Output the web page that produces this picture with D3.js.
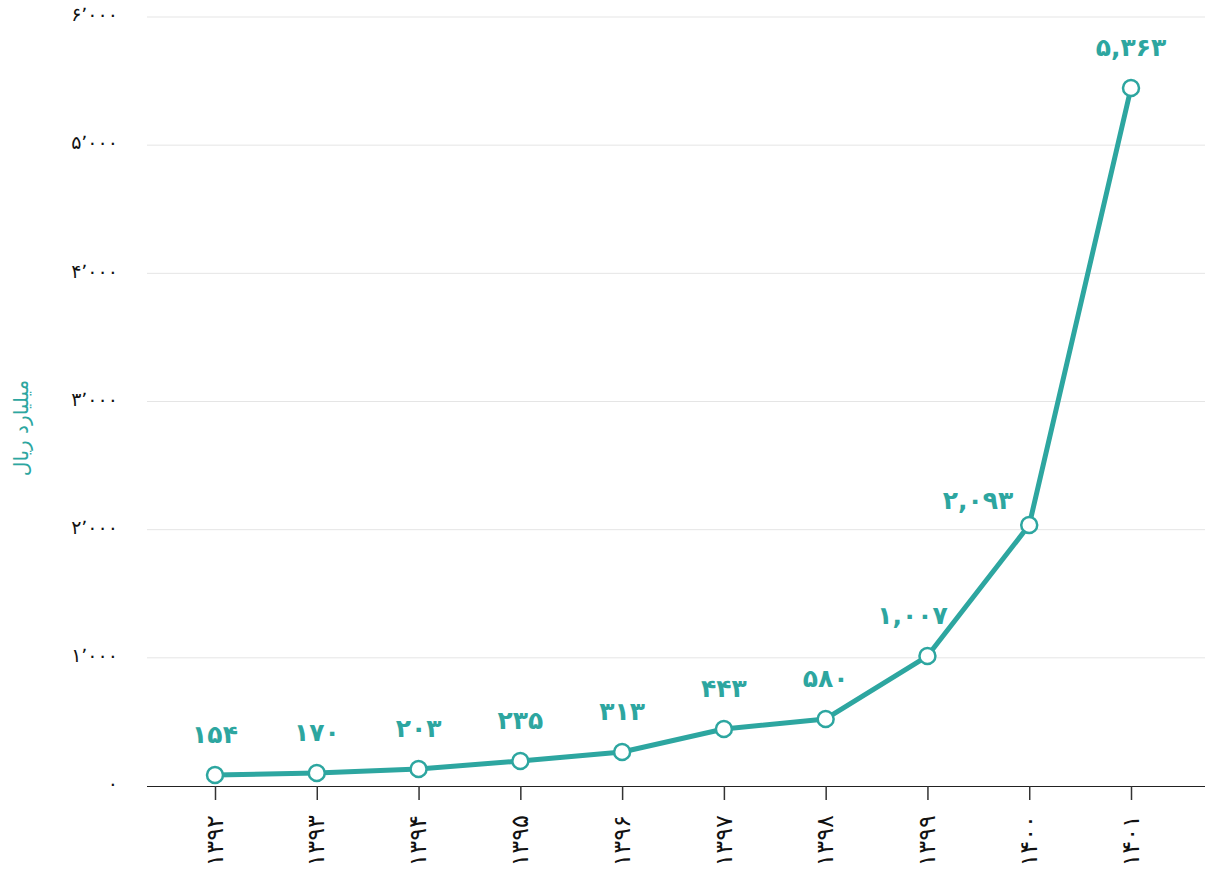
<!DOCTYPE html>
<html>
<head>
<meta charset="utf-8">
<script src="https://cdn.jsdelivr.net/npm/d3@7"></script>
<style>
  html, body { margin: 0; padding: 0; background: #fff; }
  svg { display: block; font-family: "DejaVu Sans", sans-serif; }
</style>
</head>
<body>
<svg id="chart" width="1207" height="875"></svg>
<script>
// ---- data ----
const years = ["1392", "1393", "1394", "1395", "1396", "1397", "1398", "1399", "1400", "1401"];
// plotted values (as drawn in the reference)
const values = [86, 101, 133, 195, 265, 445, 523, 1014, 2036, 5446];
// value labels as printed in the reference
const labelValues = [154, 170, 203, 235, 313, 443, 580, 1007, 2093, 5363];
const yTicks = [0, 1000, 2000, 3000, 4000, 5000, 6000];
const yTitle = "میلیارد ریال";

// ---- helpers ----
const faDigits = "۰۱۲۳۴۵۶۷۸۹";
function toFa(str) { return String(str).replace(/[0-9]/g, d => faDigits[+d]); }
function fmt(n, sep) { return toFa(d3.format(",")(n)).replace(/,/g, sep); }

const teal = "#2da6a0";
const svg = d3.select("#chart");

const plotLeft = 147, plotRight = 1205, plotTop = 17, plotBottom = 786;

const x = d3.scalePoint().domain(years).range([215, 1131]);
const y = d3.scaleLinear().domain([0, 6000]).range([plotBottom, plotTop]);

// gridlines
svg.append("g")
  .selectAll("line")
  .data(yTicks.filter(t => t > 0))
  .join("line")
  .attr("x1", plotLeft).attr("x2", plotRight)
  .attr("y1", d => y(d)).attr("y2", d => y(d))
  .attr("stroke", "#e5e5e5").attr("stroke-width", 1);

// y axis (labels only)
const yAxis = svg.append("g")
  .attr("transform", `translate(${118},0)`)
  .call(d3.axisLeft(y).tickValues(yTicks).tickSize(0).tickPadding(0).tickFormat(d => fmt(d, "٬")));
yAxis.select(".domain").remove();
yAxis.selectAll("text")
  .attr("font-size", 19)
  .attr("font-family", "DejaVu Sans, sans-serif")
  .attr("fill", "#111")
  .attr("text-anchor", "end")
  .attr("dy", "0.2em")
  .attr("direction", "ltr");

// x axis
const xAxis = svg.append("g")
  .attr("transform", `translate(0,${plotBottom})`)
  .call(d3.axisBottom(x).tickSize(14).tickPadding(0).tickFormat(d => toFa(d)));
xAxis.select(".domain")
  .attr("d", `M${plotLeft},0.5H${plotRight}`)
  .attr("stroke", "#222");
xAxis.selectAll(".tick line").attr("stroke", "#333").attr("stroke-width", 1.5);
xAxis.selectAll("text")
  .attr("font-size", 24)
  .attr("font-family", "DejaVu Sans, sans-serif")
  .attr("fill", "#111")
  .attr("direction", "ltr")
  .attr("text-anchor", "end")
  .attr("transform", "translate(0,29) rotate(-90)")
  .attr("x", 0)
  .attr("y", 0)
  .attr("dy", "0.3em");

// y title
svg.append("text")
  .attr("transform", `translate(28,${428}) rotate(-90)`)
  .attr("text-anchor", "middle")
  .attr("font-size", 20)
  .attr("fill", teal)
  .text(yTitle);

// line
const data = years.map((yr, i) => ({ yr, v: values[i], lab: labelValues[i] }));
svg.append("path")
  .datum(data)
  .attr("fill", "none")
  .attr("stroke", teal)
  .attr("stroke-width", 5)
  .attr("stroke-linejoin", "round")
  .attr("d", d3.line().x(d => x(d.yr)).y(d => y(d.v)));

// points
svg.append("g")
  .selectAll("circle")
  .data(data)
  .join("circle")
  .attr("cx", d => x(d.yr))
  .attr("cy", d => y(d.v))
  .attr("r", 8)
  .attr("fill", "#fff")
  .attr("stroke", teal)
  .attr("stroke-width", 2.5);

// value labels: above the point, nudged left / to the upper-left where the next segment rises steeply
svg.append("g")
  .selectAll("text")
  .data(data)
  .join("text")
  .each(function (d, i) {
    const px = x(d.yr), py = y(d.v);
    const next = data[i + 1];
    const slope = next ? (py - y(next.v)) / (x(next.yr) - px) : 0;
    const t = d3.select(this);
    if (slope > 2.5) {
      t.attr("x", px - 16).attr("y", py - 16).attr("text-anchor", "end");
    } else if (slope > 1) {
      t.attr("x", px - 15).attr("y", py - 32).attr("text-anchor", "middle");
    } else {
      t.attr("x", px).attr("y", py - 32).attr("text-anchor", "middle");
    }
  })
  .attr("font-size", 25)
  .attr("font-weight", "bold")
  .attr("fill", teal)
  .attr("direction", "ltr")
  .text(d => fmt(d.lab, ","));
</script>
</body>
</html>
